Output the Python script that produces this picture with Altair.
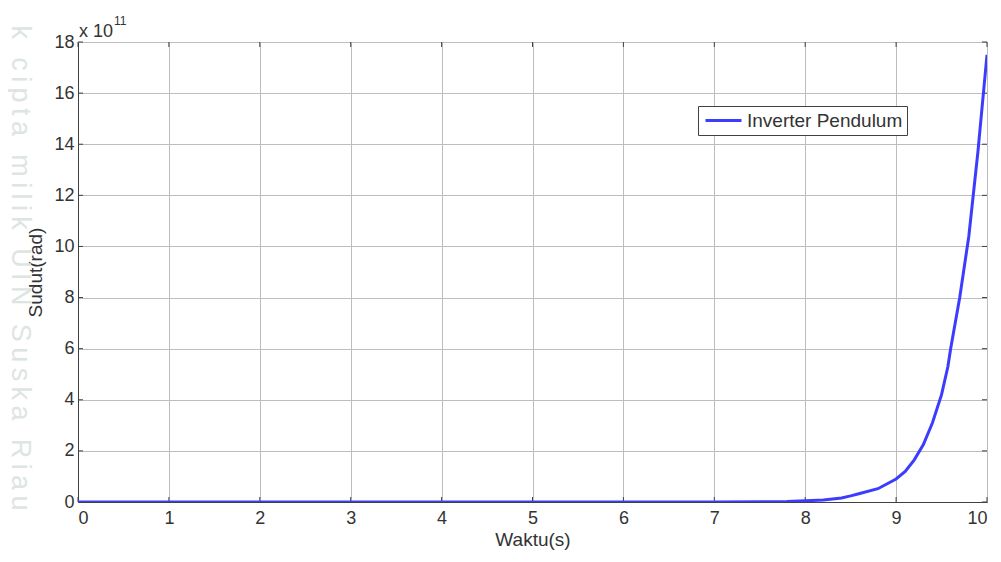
import altair as alt
import pandas as pd

# time (s) and angle (x 10^11 rad)
t = [0, 1, 2, 3, 4, 5, 6, 7, 7.5, 7.8, 8.0, 8.2, 8.4, 8.5, 8.6, 8.8, 9.0, 9.1,
     9.2, 9.3, 9.4, 9.5, 9.57, 9.6, 9.7, 9.8, 9.9, 10.0]
v = [0, 0, 0, 0, 0, 0, 0.001, 0.004, 0.01, 0.02, 0.045, 0.08, 0.16, 0.24, 0.33,
     0.52, 0.9, 1.2, 1.65, 2.25, 3.1, 4.2, 5.3, 6.0, 8.0, 10.4, 13.7, 17.5]
series_name = "Inverter Pendulum"
x_ticks = list(range(0, 11))
y_ticks = list(range(0, 19, 2))
x_title = "Waktu(s)"
y_title = "Sudut(rad)"
exp_base = "x 10"
exp_pow = "11"
watermark = "k cipta milik UIN Suska Riau"

W, H = 909, 460
AX = "#404040"
TXT = "#333333"
FONT = "Liberation Sans"

df = pd.DataFrame({"t": t, "v": v, "s": [series_name] * len(t)})
xt = pd.DataFrame({"x": x_ticks})
yt = pd.DataFrame({"y": y_ticks})
one = pd.DataFrame({"a": [0]})

xs = alt.Scale(domain=[0, 10], nice=False, zero=False)
ys = alt.Scale(domain=[0, 18], nice=False)

line = alt.Chart(df).mark_line(strokeWidth=3, clip=True).encode(
    x=alt.X("t:Q", scale=xs, axis=alt.Axis(
        values=x_ticks, title=x_title, grid=True, tickSize=0, labelPadding=7,
        titlePadding=3, format="d")),
    y=alt.Y("v:Q", scale=ys, axis=alt.Axis(
        values=y_ticks, title=y_title, grid=True, tickSize=0, labelPadding=4,
        titlePadding=8, format="d")),
    color=alt.Color("s:N", scale=alt.Scale(range=["#3c3cff"]), legend=alt.Legend(
        title=None, orient="none", legendX=620, legendY=64,
        strokeColor=AX, fillColor="white", padding=4,
        symbolType="M-2,0H2", symbolStrokeWidth=3, symbolSize=324,
        symbolOffset=11, labelOffset=13,
        labelFontSize=19, labelColor=TXT, labelFont=FONT)),
)

tick_bottom = alt.Chart(xt).mark_rule(color=AX).encode(
    x=alt.X("x:Q", scale=xs), y=alt.value(H), y2=alt.value(H - 5))
tick_top = alt.Chart(xt).mark_rule(color=AX).encode(
    x=alt.X("x:Q", scale=xs), y=alt.value(0), y2=alt.value(5))
tick_left = alt.Chart(yt).mark_rule(color=AX).encode(
    y=alt.Y("y:Q", scale=ys), x=alt.value(0), x2=alt.value(5))
tick_right = alt.Chart(yt).mark_rule(color=AX).encode(
    y=alt.Y("y:Q", scale=ys), x=alt.value(W), x2=alt.value(W - 5))

exp1 = alt.Chart(one).mark_text(align="left", baseline="alphabetic", fontSize=18,
                                color=TXT, font=FONT).encode(
    x=alt.value(1), y=alt.value(-5), text=alt.value(exp_base))
exp2 = alt.Chart(one).mark_text(align="left", baseline="alphabetic", fontSize=12,
                                color=TXT, font=FONT).encode(
    x=alt.value(36), y=alt.value(-17), text=alt.value(exp_pow))
wm = alt.Chart(one).mark_text(angle=90, align="center", baseline="middle",
                              fontSize=27, color="#dde5e1", font=FONT).encode(
    x=alt.value(-58), y=alt.value(226), text=alt.value("\u2009".join(watermark)))

chart = alt.layer(
    wm, tick_bottom, tick_top, tick_left, tick_right, line, exp1, exp2
).properties(
    width=W, height=H,
    autosize=alt.AutoSizeParams(type="none"),
    padding={"left": 70, "top": 34, "right": 6, "bottom": 52},
).configure(font=FONT).configure_view(
    stroke=AX, strokeWidth=1
).configure_axis(
    domainColor=AX, gridColor="#bdbdbd", gridWidth=1,
    labelFontSize=18, labelColor=TXT, labelFont=FONT,
    titleFontSize=19, titleFontWeight="normal", titleColor=TXT, titleFont=FONT,
)

chart.save("out.html", embed_options={"renderer": "svg", "actions": False})
